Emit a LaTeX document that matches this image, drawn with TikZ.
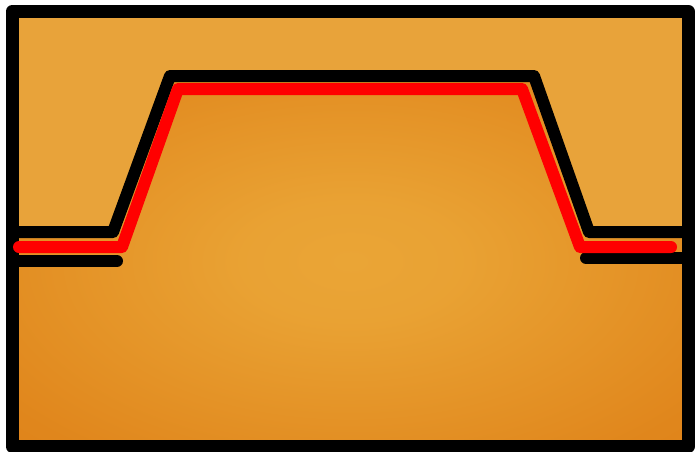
\documentclass[tikz,border=0pt]{standalone}
\usetikzlibrary{calc}
\definecolor{toporange}{HTML}{E8A33A}
\definecolor{midorange}{HTML}{EAA536}
\definecolor{edgeorange}{HTML}{E0861C}
\definecolor{farorange}{HTML}{DC7E14}
\definecolor{pathred}{HTML}{FF0000}
\pgfdeclareradialshading{bottomglow}{\pgfpoint{0bp}{0bp}}{color(0bp)=(midorange); color(8bp)=(midorange!90!edgeorange); color(32bp)=(edgeorange); color(50bp)=(farorange)}
\tikzset{
  blackline/.style={draw=black,line width=12pt,line join=round},
  redline/.style={draw=pathred,line width=12pt,line join=round,line cap=round},
  frameline/.style={draw=black,line width=13pt,line join=round}
}
\begin{document}
\begin{tikzpicture}[x=1pt,y=-1pt]
\useasboundingbox (0,0) rectangle (695,451);
\fill[white] (0,0) rectangle (695,451);
% named points of the black outline
\coordinate (bl0) at (12,232);
\coordinate (bl1) at (113,232);
\coordinate (bl2) at (170,76);
\coordinate (bl3) at (534,76);
\coordinate (bl4) at (589,232);
\coordinate (bl5) at (689,232);
% top region
\fill[toporange] (12,11) -- (689,11) -- (bl5) -- (bl4) -- (bl3) -- (bl2) -- (bl1) -- (bl0) -- cycle;
% bottom region
\shade[shading=bottomglow] (bl0) -- (bl1) -- (bl2) -- (bl3) -- (bl4) -- (bl5) -- (689,447) -- (12,447) -- cycle;
% frame
\draw[frameline] (12,11.5) rectangle (688.5,446.5);
% upper black outline
\draw[blackline] (bl0) -- (bl1) -- (bl2) -- (bl3) -- (bl4) -- (bl5);
% lower black segments
\coordinate (lb0) at (12,261);
\coordinate (lb1) at (117,261);
\coordinate (rb0) at (586,258);
\coordinate (rb1) at (689,258);
\draw[blackline,line cap=round] (lb0) -- (lb1);
\draw[blackline,line cap=round] (rb0) -- (rb1);
% red path
\coordinate (r0) at (19,247);
\coordinate (r1) at (122,247);
\coordinate (r2) at (178,89);
\coordinate (r3) at (522,89);
\coordinate (r4) at (580,247);
\coordinate (r5) at (671,247);
\draw[redline] (r0) -- (r1) -- (r2) -- (r3) -- (r4) -- (r5);
\end{tikzpicture}
\end{document}
